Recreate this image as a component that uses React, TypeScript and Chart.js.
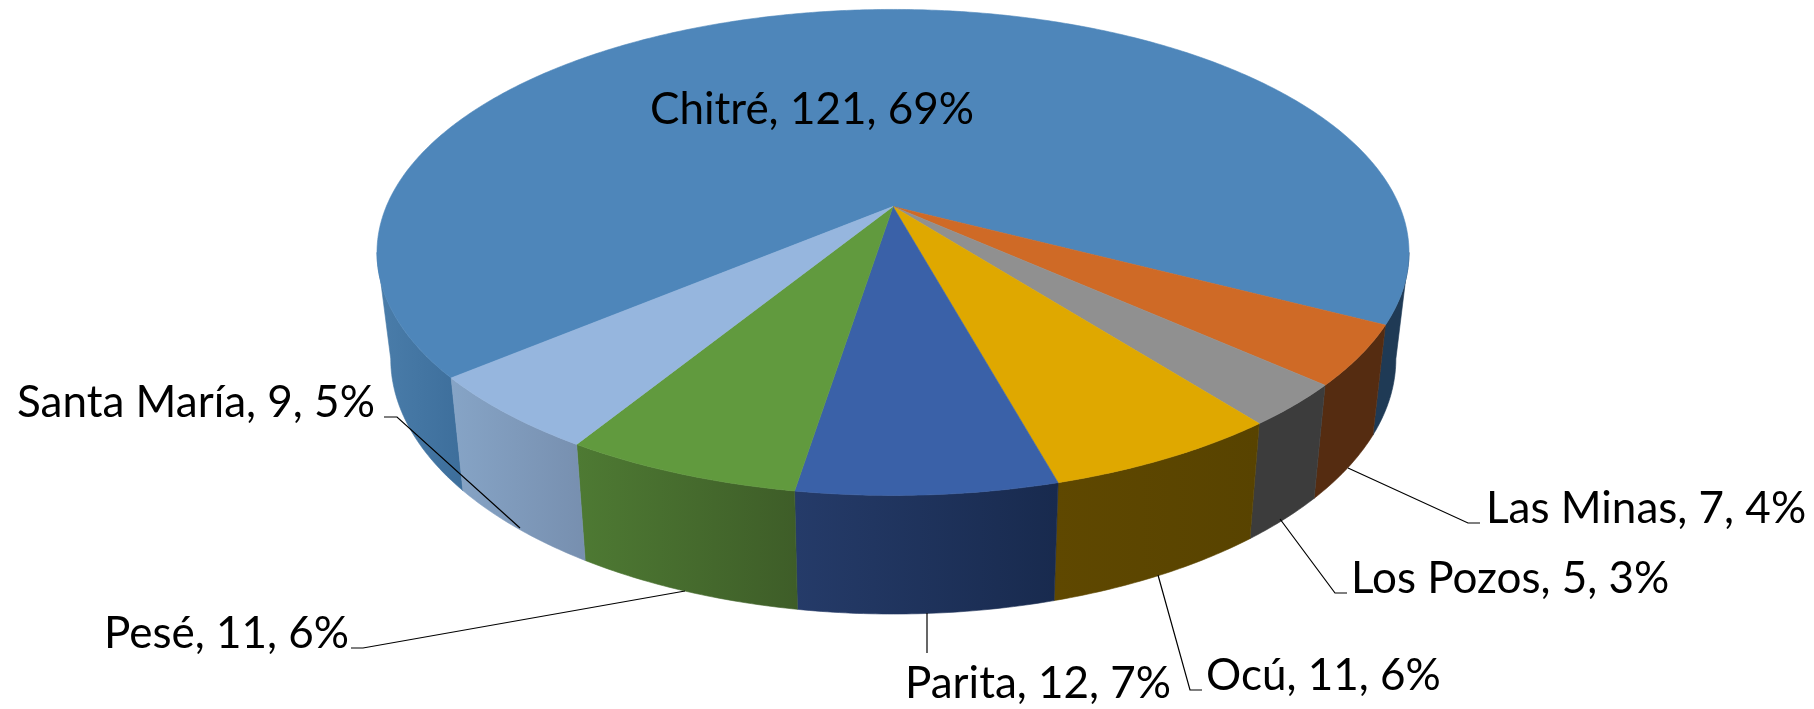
import React, { useEffect, useRef } from "react";
import { Chart, registerables } from "chart.js";

Chart.register(...registerables);

const categories = ["Chitré", "Las Minas", "Los Pozos", "Ocú", "Parita", "Pesé", "Santa María"];
const counts = [121, 7, 5, 11, 12, 11, 9];
const topColors = ["#4E86BA", "#CF6A26", "#909090", "#DFA800", "#3A61A8", "#619A3E", "#96B6DE"];
// wall shading per visible wall piece: [colour at left edge, colour at right edge]
const wallColors = [
  [["#4A7DAA", "#3D6E9B"], ["#1F3A55", "#1F3A55"]],
  [["#552C11", "#552C11"]],
  [["#3C3C3C", "#3C3C3C"]],
  [["#5F4800", "#584300"]],
  [["#253B69", "#182A4E"]],
  [["#4E7A33", "#3E5D28"]],
  [["#86A4C6", "#778FAF"]],
];
// label anchors: left x, baseline y
const labelX = [650, 1486, 1351, 1206, 905, 104, 17];
const labelY = [124, 523, 593, 690, 698, 648, 417];
// leader lines, from label to pie
const leaders: number[][][] = [
  [],
  [[1480, 523], [1468, 523], [1348, 468]],
  [[1347, 593], [1335, 593], [1280, 519]],
  [[1202, 690], [1190, 690], [1158, 575]],
  [[927, 653], [927, 613]],
  [[351, 648], [363, 648], [685, 591]],
  [[384, 417], [397, 417], [520, 528]],
];

const K = 0.189;
const topFace = { x: 893, y: 206.5, a: 506.7, b: 234.3 };
const baseFace = { x: 893.3, y: 310.7, a: 493.5, b: 246 };
const FONT_SIZE = 44;
const FONT = `${FONT_SIZE}px Lato, "Open Sans", sans-serif`;

function project(face: typeof topFace, angle: number) {
  const u = Math.cos(angle);
  const v = Math.sin(angle);
  const w = 1 - K * v;
  return { x: face.x + (face.a * u) / w, y: face.y + (face.b * v) / w };
}

function rimPoints(face: typeof topFace, from: number, to: number) {
  const n = Math.max(2, Math.ceil(Math.abs(to - from) / 0.01));
  const pts = [];
  for (let i = 0; i <= n; i++) pts.push(project(face, from + ((to - from) * i) / n));
  return pts;
}

const pie3d = {
  id: "pie3d",
  beforeDatasetsDraw(chart: any) {
    const ctx = chart.ctx as CanvasRenderingContext2D;
    const arcs = chart.getDatasetMeta(0).data;
    // the rim is visible between the two silhouette tangents of the projected circle
    const horizon = Math.asin(K);

    arcs.forEach((arc: any, i: number) => {
      const { startAngle, endAngle } = arc.getProps(["startAngle", "endAngle"], true);
      let piece = 0;
      for (const shift of [0, 2 * Math.PI]) {
        const from = Math.max(startAngle, horizon + shift);
        const to = Math.min(endAngle, Math.PI - horizon + shift);
        if (to <= from) continue;
        const top = rimPoints(topFace, from, to);
        const base = rimPoints(baseFace, from, to);
        const poly = [...top, ...base.reverse()];
        const xs = poly.map((p) => p.x);
        const g = ctx.createLinearGradient(Math.min(...xs), 0, Math.max(...xs), 0);
        const pair = wallColors[i][piece] || wallColors[i][0];
        g.addColorStop(0, pair[0]);
        g.addColorStop(1, pair[1]);
        ctx.beginPath();
        poly.forEach((p, j) => (j ? ctx.lineTo(p.x, p.y) : ctx.moveTo(p.x, p.y)));
        ctx.closePath();
        ctx.fillStyle = g;
        ctx.fill();
        ctx.strokeStyle = g;
        ctx.lineWidth = 0.6;
        ctx.stroke();
        piece++;
      }
    });

    arcs.forEach((arc: any, i: number) => {
      const { startAngle, endAngle } = arc.getProps(["startAngle", "endAngle"], true);
      const color = chart.data.datasets[0].backgroundColor[i];
      ctx.beginPath();
      ctx.moveTo(topFace.x, topFace.y);
      rimPoints(topFace, startAngle, endAngle).forEach((p) => ctx.lineTo(p.x, p.y));
      ctx.closePath();
      ctx.fillStyle = color;
      ctx.fill();
      ctx.strokeStyle = color;
      ctx.lineWidth = 0.6;
      ctx.stroke();
    });
    return false;
  },
  afterDraw(chart: any) {
    const ctx = chart.ctx as CanvasRenderingContext2D;
    const total = counts.reduce((s, c) => s + c, 0);
    ctx.save();
    ctx.strokeStyle = "#000";
    ctx.lineWidth = 1.2;
    leaders.forEach((line) => {
      if (!line.length) return;
      ctx.beginPath();
      line.forEach(([x, y], j) => (j ? ctx.lineTo(x, y) : ctx.moveTo(x, y)));
      ctx.stroke();
    });
    ctx.fillStyle = "#000";
    ctx.font = FONT;
    ctx.textAlign = "left";
    ctx.textBaseline = "alphabetic";
    categories.forEach((name, i) => {
      const text = `${name}, ${counts[i]}, ${Math.round((counts[i] / total) * 100)}%`;
      ctx.fillText(text, labelX[i], labelY[i]);
    });
    ctx.restore();
  },
};

export default function App() {
  const ref = useRef<HTMLCanvasElement>(null);
  useEffect(() => {
    document.body.style.margin = "0";
    document.body.style.background = "#fff";
    const chart = new Chart(ref.current!, {
      type: "pie",
      data: {
        labels: categories,
        datasets: [{ data: counts, backgroundColor: topColors, borderWidth: 0 }],
      },
      options: {
        responsive: false,
        animation: false,
        rotation: 230,
        plugins: { legend: { display: false }, tooltip: { enabled: false } },
      },
      plugins: [pie3d],
    } as any);
    return () => chart.destroy();
  }, []);
  return <canvas ref={ref} width={1814} height={709} style={{ display: "block" }} />;
}
